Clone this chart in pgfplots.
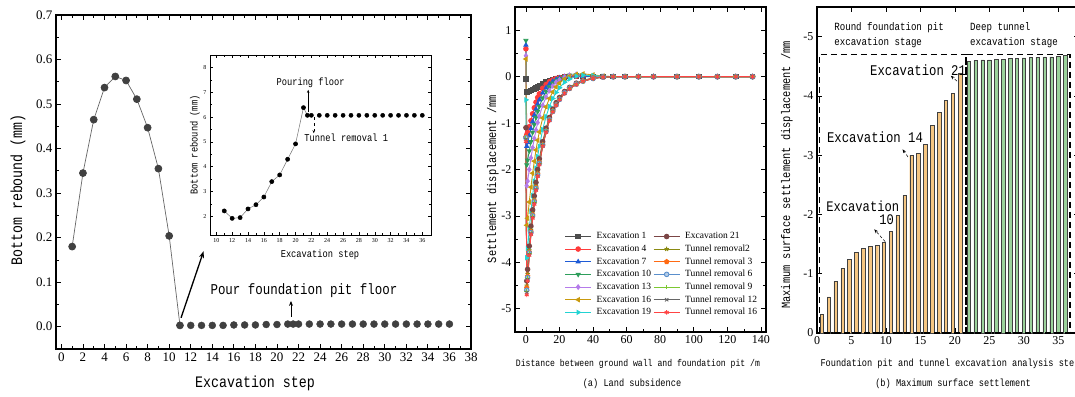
\documentclass[border=0pt]{standalone}
\usepackage{pgfplots}
\pgfplotsset{compat=1.18}
\usepackage{pgfplotstable}
\usepackage{fontspec}
\setmainfont{Liberation Serif}
\newfontfamily\simfont[FakeStretch=0.83]{Liberation Mono}
\usetikzlibrary{arrows.meta,plotmarks}
\newcommand\fsz[1]{\fontsize{#1bp}{#1bp}\selectfont}

\definecolor{cA}{HTML}{4D4D4D}
\definecolor{cB}{HTML}{FF3B3B}
\definecolor{cC}{HTML}{1E5BD6}
\definecolor{cD}{HTML}{2E9E5B}
\definecolor{cE}{HTML}{B57BEA}
\definecolor{cF}{HTML}{C99A0E}
\definecolor{cG}{HTML}{22D3D3}
\definecolor{cH}{HTML}{7B4545}
\definecolor{cI}{HTML}{8A8A12}
\definecolor{cJ}{HTML}{FF6A13}
\definecolor{cK}{HTML}{5A8FCC}
\definecolor{cL}{HTML}{7CC832}
\definecolor{cM}{HTML}{666666}
\definecolor{cN}{HTML}{FF4444}
\definecolor{barO}{HTML}{F5C682}
\definecolor{barG}{HTML}{9BD29B}

\pgfplotstableread{
x    e1    e4    e7    e10   e13   e16   e19   e21   t2    t3    t6    t9    t12   t16
0    -0.05 0.60  0.68  0.78  0.45  0.38  -0.50 -1.10 -1.30 -1.30 -1.32 -1.33 -1.35 -1.40
0.5  -0.33 -1.25 -1.50 -1.90 -2.35 -3.20 -3.90 -4.40 -4.50 -4.55 -4.60 -4.62 -4.65 -4.70
1    -0.33 -1.20 -1.42 -1.80 -2.25 -3.05 -3.70 -4.15 -4.25 -4.30 -4.33 -4.35 -4.37 -4.40
2    -0.32 -1.08 -1.27 -1.60 -2.00 -2.70 -3.28 -3.65 -3.74 -3.78 -3.80 -3.81 -3.83 -3.85
3    -0.30 -0.95 -1.12 -1.40 -1.75 -2.38 -2.90 -3.22 -3.30 -3.34 -3.36 -3.37 -3.38 -3.40
4    -0.28 -0.80 -0.97 -1.20 -1.53 -2.08 -2.56 -2.87 -2.95 -2.98 -3.00 -3.01 -3.03 -3.05
5    -0.26 -0.67 -0.83 -1.03 -1.33 -1.82 -2.25 -2.57 -2.65 -2.68 -2.70 -2.71 -2.73 -2.75
6    -0.24 -0.55 -0.70 -0.88 -1.15 -1.58 -1.97 -2.28 -2.36 -2.39 -2.41 -2.42 -2.43 -2.45
7    -0.22 -0.45 -0.59 -0.75 -0.99 -1.37 -1.72 -2.00 -2.07 -2.10 -2.12 -2.13 -2.14 -2.15
8    -0.20 -0.37 -0.50 -0.64 -0.85 -1.19 -1.50 -1.77 -1.83 -1.85 -1.87 -1.88 -1.89 -1.90
10   -0.16 -0.25 -0.35 -0.46 -0.62 -0.89 -1.14 -1.40 -1.45 -1.47 -1.48 -1.48 -1.49 -1.50
12   -0.12 -0.17 -0.24 -0.32 -0.44 -0.65 -0.86 -1.11 -1.15 -1.17 -1.18 -1.18 -1.19 -1.20
14   -0.09 -0.11 -0.16 -0.22 -0.30 -0.47 -0.64 -0.88 -0.91 -0.92 -0.93 -0.93 -0.94 -0.95
16   -0.07 -0.07 -0.10 -0.14 -0.20 -0.33 -0.47 -0.70 -0.73 -0.74 -0.75 -0.75 -0.75 -0.76
18   -0.05 -0.04 -0.06 -0.08 -0.12 -0.22 -0.34 -0.56 -0.59 -0.60 -0.61 -0.61 -0.61 -0.62
20   -0.03 -0.02 -0.03 -0.04 -0.07 -0.14 -0.24 -0.45 -0.47 -0.48 -0.49 -0.49 -0.49 -0.50
23   -0.01 0.00  0.00  0.00  -0.01 -0.05 -0.12 -0.32 -0.34 -0.35 -0.35 -0.35 -0.36 -0.36
26   0.00  0.01  0.02  0.03  0.03  0.01  -0.05 -0.23 -0.24 -0.25 -0.25 -0.25 -0.26 -0.26
30   0.00  0.01  0.02  0.04  0.05  0.05  0.01  -0.14 -0.15 -0.16 -0.16 -0.16 -0.17 -0.17
34   0.00  0.01  0.01  0.03  0.04  0.06  0.03  -0.08 -0.09 -0.09 -0.10 -0.10 -0.10 -0.10
40   0.00  0.00  0.00  0.01  0.02  0.04  0.02  -0.03 -0.03 -0.03 -0.04 -0.04 -0.04 -0.04
46   0.00  0.00  0.00  0.00  0.00  0.01  0.01  -0.01 -0.01 -0.01 -0.01 -0.01 -0.01 -0.01
52   0.00  0.00  0.00  0.00  0.00  0.00  0.00  0.00  0.00  0.00  0.00  0.00  0.00  0.00
59   0.00  0.00  0.00  0.00  0.00  0.00  0.00  0.00  0.00  0.00  0.00  0.00  0.00  0.00
67   0.00  0.00  0.00  0.00  0.00  0.00  0.00  0.00  0.00  0.00  0.00  0.00  0.00  0.00
76   0.00  0.00  0.00  0.00  0.00  0.00  0.00  0.00  0.00  0.00  0.00  0.00  0.00  0.00
90   0.00  0.00  0.00  0.00  0.00  0.00  0.00  0.00  0.00  0.00  0.00  0.00  0.00  0.00
103  0.00  0.00  0.00  0.00  0.00  0.00  0.00  0.00  0.00  0.00  0.00  0.00  0.00  0.00
114  0.00  0.00  0.00  0.00  0.00  0.00  0.00  0.00  0.00  0.00  0.00  0.00  0.00  0.00
125  0.00  0.00  0.00  0.00  0.00  0.00  0.00  0.00  0.00  0.00  0.00  0.00  0.00  0.00
135  0.00  0.00  0.00  0.00  0.00  0.00  0.00  0.00  0.00  0.00  0.00  0.00  0.00  0.00
}\settle

\pgfplotsset{
  myax/.style={scale only axis, anchor=south west,
    axis line style={line width=1.1bp},
    tick style={line width=0.8bp, black},
    major tick length=5bp, minor tick length=2.8bp,
    /pgf/number format/assume math mode=true},
  sline/.style={line width=0.9bp, mark size=2.3bp},
}

\begin{document}
\begin{tikzpicture}
\useasboundingbox (0,0) rectangle (1075bp,397bp);

% ---------------- Panel 1 ----------------
\begin{axis}[myax, at={(56bp,48bp)}, width=415bp, height=334bp,
  xmin=-0.5, xmax=38, ymin=-0.05, ymax=0.7,
  xtick={0,2,...,38}, ytick={0,0.1,...,0.7},
  minor x tick num=1, minor y tick num=1,
  tick label style={font=\fsz{13}},
  yticklabel style={/pgf/number format/.cd, fixed, fixed zerofill, precision=1},
  clip=false]
\addplot[line width=0.7bp, color=black!60, mark=*, mark size=3.5bp,
  mark options={fill=black!75, draw=black!75}] coordinates {
  (1,0.180)(2,0.345)(3,0.465)(4,0.537)(5,0.562)(6,0.553)(7,0.511)
  (8,0.447)(9,0.355)(10,0.204)(11,0.003)};
\addplot[only marks, mark=*, mark size=3.5bp, mark options={fill=black!75, draw=black!75}] coordinates {
  (12,0.003)(13,0.003)(14,0.003)(15,0.003)(16,0.004)(17,0.004)(18,0.004)
  (19,0.005)(20,0.005)(21,0.006)(21.5,0.006)(22,0.006)(23,0.006)(24,0.006)
  (25,0.006)(26,0.006)(27,0.006)(28,0.006)(29,0.006)(30,0.006)(31,0.006)
  (32,0.006)(33,0.006)(34,0.006)(35,0.006)(36,0.006)};
\draw[line width=1.3bp, -{Stealth[length=7bp,width=5bp]}] (axis cs:11.1,0.02) -- (axis cs:13.2,0.17);
\draw[line width=0.9bp, -{Stealth[length=5bp,width=4bp]}] (axis cs:21.3,0.022) -- (axis cs:21.3,0.058);
\node[font=\simfont\fsz{15}] at (axis cs:22.5,0.082) {Pour foundation pit floor};
\end{axis}

% inset
\begin{axis}[myax, at={(210bp,162bp)}, width=221bp, height=180bp,
  xmin=9.2, xmax=37.1, ymin=1.25, ymax=8.5,
  xtick={10,12,...,36}, ytick={2,...,8},
  minor x tick num=1, minor y tick num=1,
  axis line style={line width=0.7bp}, tick style={line width=0.5bp},
  major tick length=3bp, minor tick length=1.8bp,
  tick label style={font=\fsz{6}},
  clip=false]
\addplot[line width=0.5bp, color=black!55, mark=*, mark size=2.1bp,
  mark options={fill=black, draw=black}] coordinates {
  (11,2.22)(12,1.92)(13,1.95)(14,2.30)(15,2.47)(16,2.78)(17,3.40)(18,3.67)
  (19,4.30)(20,4.92)(21,6.38)(21.5,6.07)};
\addplot[only marks, mark=*, mark size=2.1bp, mark options={fill=black, draw=black}] coordinates {
  (22,6.07)(23,6.07)(24,6.07)(25,6.07)(26,6.07)(27,6.07)(28,6.07)(29,6.07)
  (30,6.07)(31,6.07)(32,6.07)(33,6.07)(34,6.07)(35,6.07)(36,6.07)};
\draw[line width=0.4bp, -{Stealth[length=3bp,width=2.5bp]}] (axis cs:21.6,6.2) -- (axis cs:21.6,7.1);
\draw[line width=0.4bp, dashed, -{Stealth[length=3bp,width=2.5bp]}] (axis cs:22.3,6.0) -- (axis cs:22.3,5.35);
\node[font=\simfont\fsz{10.5}] at (axis cs:21.9,7.37) {Pouring floor};
\node[font=\simfont\fsz{10.5}] at (axis cs:26.4,5.15) {Tunnel removal 1};
\end{axis}
\node[font=\simfont\fsz{10.5}] at (320bp,142bp) {Excavation step};
\node[font=\simfont\fsz{10.5}, rotate=90] at (195bp,252bp) {Bottom rebound (mm)};

\node[font=\simfont\fsz{16}] at (255bp,14bp) {Excavation step};
\node[font=\simfont\fsz{16}, rotate=90] at (18bp,207bp) {Bottom rebound (mm)};

% ---------------- Panel 2 ----------------
\begin{axis}[myax, at={(515bp,65bp)}, width=251bp, height=325bp,
  xmin=-6.5, xmax=143, ymin=-5.5, ymax=1.5,
  xtick={0,20,...,140}, ytick={-5,-4,-3,-2,-1,0,1},
  minor x tick num=1, minor y tick num=1,
  tick label style={font=\fsz{12}},
  legend columns=7, transpose legend, legend cell align=left,
  legend style={at={(0.985,0.035)}, anchor=south east, draw=none, fill=none,
    font=\fsz{9.5}, row sep=0.6bp,
    /tikz/every odd column/.append style={column sep=3bp},
    /tikz/every even column/.append style={column sep=0bp}},
  legend image code/.code={\draw[mark repeat=2,mark phase=2] plot coordinates {(0bp,0bp)(13bp,0bp)(26bp,0bp)};}]
\addplot[sline, cA, mark=square*] table[x=x,y=e1]{\settle};
\addplot[sline, cB, mark=*] table[x=x,y=e4]{\settle};
\addplot[sline, cC, mark=triangle*] table[x=x,y=e7]{\settle};
\addplot[sline, cD, mark=triangle*, mark options={rotate=180}] table[x=x,y=e10]{\settle};
\addplot[sline, cE, mark=diamond*] table[x=x,y=e13]{\settle};
\addplot[sline, cF, mark=triangle*, mark options={rotate=90}] table[x=x,y=e16]{\settle};
\addplot[sline, cG, mark=triangle*, mark options={rotate=-90}] table[x=x,y=e19]{\settle};
\addplot[sline, cH, mark=*] table[x=x,y=e21]{\settle};
\addplot[sline, cI, mark=star, mark options={line width=1bp}] table[x=x,y=t2]{\settle};
\addplot[sline, cJ, mark=pentagon*] table[x=x,y=t3]{\settle};
\addplot[sline, cK, mark=*, mark options={fill=cK!45}] table[x=x,y=t6]{\settle};
\addplot[sline, cL, mark=+] table[x=x,y=t9]{\settle};
\addplot[sline, cM, mark=x] table[x=x,y=t12]{\settle};
\addplot[sline, cN, mark=asterisk] table[x=x,y=t16]{\settle};
\legend{Excavation 1, Excavation 4, Excavation 7, Excavation 10, Excavation 13, Excavation 16, Excavation 19,
  Excavation 21, Tunnel removal2, Tunnel removal 3, Tunnel removal 6, Tunnel removal 9, Tunnel removal 12, Tunnel removal 16}
\end{axis}
\node[font=\simfont\fsz{12.5}, rotate=90] at (493bp,218bp) {Settlement displacement /mm};
\node[font=\simfont\fsz{9.8}] at (638bp,33bp) {Distance between ground wall and foundation pit /m};
\node[font=\simfont\fsz{10.4}] at (632bp,13bp) {(a) Land subsidence};

% ---------------- Panel 3 ----------------
\begin{axis}[myax, at={(817bp,64bp)}, width=262bp, height=326bp,
  xmin=0, xmax=38, ymin=-5.5, ymax=0, y dir=reverse,
  xtick={0,5,...,35}, ytick={-5,-4,-3,-2,-1,0},
  tick label style={font=\fsz{12}},
  clip=false]
\addplot[ybar, bar width=0.5, bar shift=0pt, fill=barO, draw=black!75, line width=0.4bp] coordinates {
  (0.7,-0.32)(1.7,-0.61)(2.7,-0.87)(3.7,-1.09)(4.7,-1.24)(5.7,-1.36)(6.7,-1.43)
  (7.7,-1.46)(8.7,-1.48)(9.7,-1.53)(10.7,-1.71)(11.7,-1.98)(12.7,-2.32)(13.7,-3.00)
  (14.7,-3.03)(15.7,-3.18)(16.7,-3.50)(17.7,-3.72)(18.7,-3.92)(19.7,-4.04)(20.8,-4.39)};
\addplot[ybar, bar width=0.5, bar shift=0pt, fill=barG, draw=black!75, line width=0.4bp] coordinates {
  (22,-4.58)(23,-4.60)(24,-4.61)(25,-4.61)(26,-4.62)(27,-4.62)(28,-4.63)(29,-4.63)
  (30,-4.64)(31,-4.65)(32,-4.65)(33,-4.66)(34,-4.66)(35,-4.67)(36,-4.68)};
\draw[line width=1.5bp, dash pattern=on 6bp off 4bp] (axis cs:0.35,0) rectangle (axis cs:21.6,-4.70);
\draw[line width=1.5bp, dash pattern=on 6bp off 4bp] (axis cs:21.6,0) rectangle (axis cs:36.7,-4.70);
\node[font=\simfont\fsz{11}, anchor=west] at (axis cs:2.0,-5.16) {Round foundation pit};
\node[font=\simfont\fsz{11}, anchor=west] at (axis cs:2.0,-4.90) {excavation stage};
\node[font=\simfont\fsz{11}, anchor=west] at (axis cs:21.7,-5.16) {Deep tunnel};
\node[font=\simfont\fsz{11}, anchor=west] at (axis cs:21.7,-4.90) {excavation stage};
\node[font=\simfont\fsz{14.8}, anchor=west] at (axis cs:7.2,-4.44) {Excavation 21};
\node[font=\simfont\fsz{14.8}, anchor=west] at (axis cs:0.95,-3.31) {Excavation 14};
\node[font=\simfont\fsz{14.6}, anchor=west] at (axis cs:0.85,-2.13) {Excavation};
\node[font=\simfont\fsz{14.6}] at (axis cs:10.1,-1.91) {10};
\draw[line width=0.5bp, densely dashed, -{Stealth[length=4bp,width=3bp]}] (axis cs:20.3,-4.25) -- (axis cs:19.4,-4.34);
\draw[line width=0.5bp, densely dashed, -{Stealth[length=4bp,width=3bp]}] (axis cs:13.2,-2.97) -- (axis cs:12.4,-3.10);
\draw[line width=0.5bp, densely dashed, -{Stealth[length=4bp,width=3bp]}] (axis cs:9.9,-1.54) -- (axis cs:8.3,-1.75);
\end{axis}
\node[font=\simfont\fsz{12.5}, rotate=90] at (787bp,222bp) {Maximum surface settlement displacement /mm};
\node[font=\simfont\fsz{10.4}] at (950bp,33bp) {Foundation pit and tunnel excavation analysis step};
\node[font=\simfont\fsz{10.4}] at (953bp,13bp) {(b) Maximum surface settlement};
\end{tikzpicture}
\end{document}
